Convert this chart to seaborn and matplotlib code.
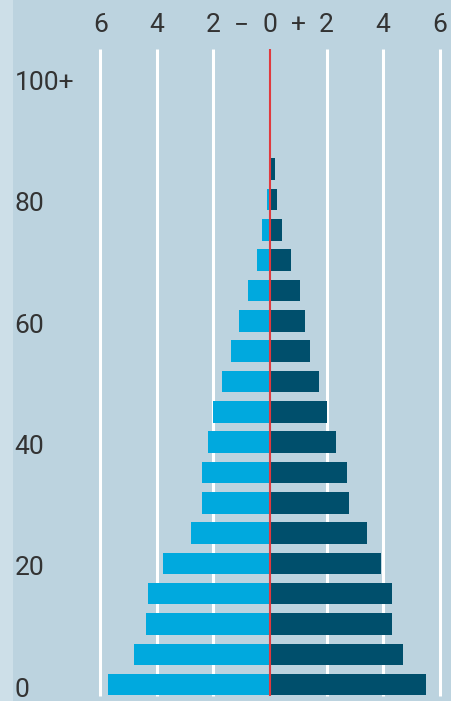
import matplotlib
matplotlib.use("Agg")
import matplotlib.pyplot as plt
import seaborn as sns
import pandas as pd

# ---- data ----
age_groups = ["0-4", "5-9", "10-14", "15-19", "20-24", "25-29", "30-34", "35-39",
              "40-44", "45-49", "50-54", "55-59", "60-64", "65-69", "70-74",
              "75-79", "80-84", "85-89", "90-94", "95-99", "100+"]
left_values = [5.71, 4.80, 4.39, 4.30, 3.79, 2.79, 2.39, 2.39, 2.18, 2.00, 1.70,
               1.37, 1.08, 0.78, 0.47, 0.29, 0.12, 0.03, 0.0, 0.0, 0.0]
right_values = [5.51, 4.71, 4.30, 4.30, 3.91, 3.41, 2.80, 2.71, 2.32, 2.00, 1.73,
                1.43, 1.24, 1.05, 0.73, 0.42, 0.26, 0.16, 0.0, 0.0, 0.0]
x_ticks = [-6, -4, -2, -1, 0, 1, 2, 4, 6]
x_tick_labels = ["6", "4", "2", "\u2212", "0", "+", "2", "4", "6"]
grid_positions = [-6, -4, -2, 2, 4, 6]
age_tick_idx = [0, 4, 8, 12, 16, 20]
age_tick_labels = ["0", "20", "40", "60", "80", "100+"]

# ---- style ----
sns.set_theme(style="white")
plt.rcParams['font.family'] = ['Roboto', 'DejaVu Sans']

BG = "#bcd3df"
STRIP = "#cddfe8"
LIGHT = "#00a9de"
DARK = "#004f6c"
RED = "#e03a3e"
TEXT = "#333333"

W, H = 452, 701
fig = plt.figure(figsize=(W / 100, H / 100), dpi=100, facecolor=STRIP)
ax = fig.add_axes([13 / W, 0, 1 - 13 / W, 1])
ax.set_facecolor(BG)

n = len(age_groups)
df = pd.DataFrame({
    "idx": list(range(n)) * 2,
    "value": [-v for v in left_values] + list(right_values),
    "side": ["left"] * n + ["right"] * n,
})

sns.barplot(data=df, x="value", y="idx", hue="side", orient="y",
            native_scale=True, dodge=False,
            palette={"left": LIGHT, "right": DARK}, saturation=1,
            width=0.71, linewidth=0, legend=False, ax=ax, zorder=2)

# grid lines and centre line
ax.vlines(grid_positions, -0.38, 20.96, color="white", lw=2.2, zorder=1)
ax.vlines([0], -0.38, 20.96, color=RED, lw=1.5, zorder=3)

ax.set_xlim((13 - 270) / 28.3, (452 - 270) / 28.3)
ax.set_ylim(-0.538, 22.58)

# top axis labels
ax.xaxis.tick_top()
ax.set_xticks(x_ticks)
ax.set_xticklabels(x_tick_labels)
ax.tick_params(axis="x", length=0, pad=-27, labelsize=19, labelcolor=TEXT)

# age labels
ax.set_yticks([i - 0.08 for i in age_tick_idx])
ax.set_yticklabels(age_tick_labels)
ax.tick_params(axis="y", length=0, pad=-1, labelsize=19, labelcolor=TEXT)
for lab in ax.get_yticklabels():
    lab.set_horizontalalignment("left")

ax.set_xlabel("")
ax.set_ylabel("")
for s in ax.spines.values():
    s.set_visible(False)

fig.savefig("out.png", dpi=100, facecolor=fig.get_facecolor())
